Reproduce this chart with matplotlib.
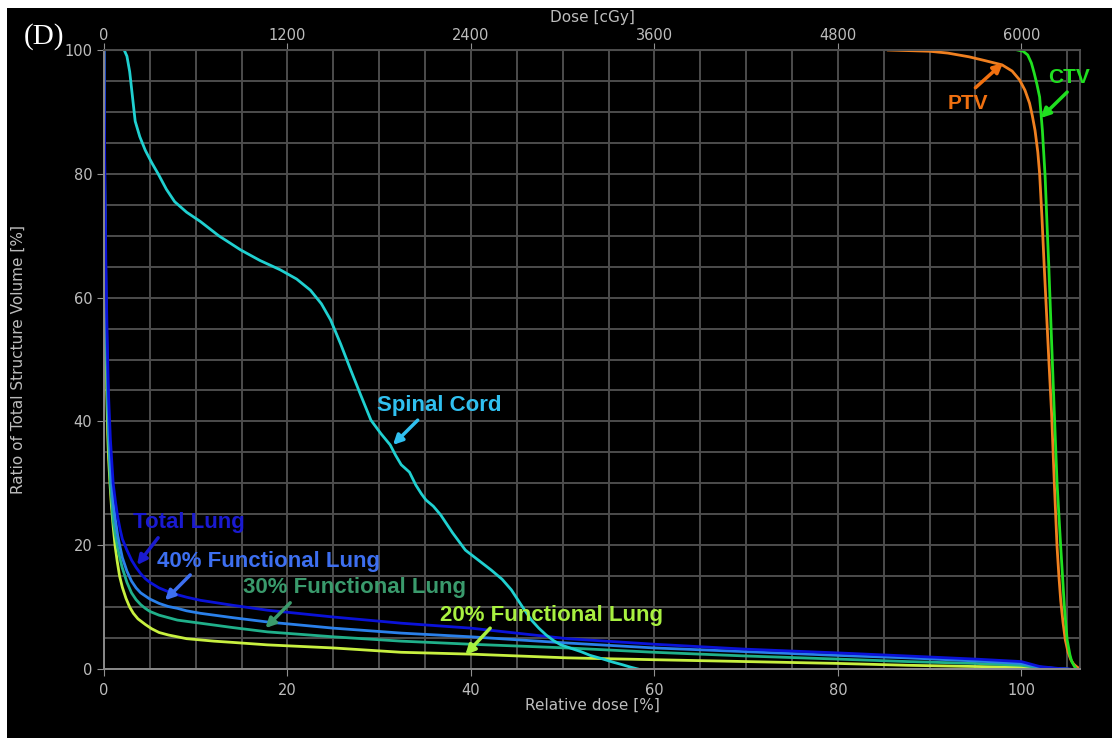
import numpy as np
import matplotlib
matplotlib.use("Agg")
import matplotlib.pyplot as plt
from matplotlib.patches import Rectangle

# dose-volume histogram, relative dose [%] vs volume [%]
cord_x = [2.2, 2.5, 2.8, 3.1, 3.4, 3.9, 4.5, 5.2, 5.9, 6.8, 7.7, 9.0, 10.5, 12.5, 14.9, 17.0,
          19.2, 21.0, 22.5, 23.7, 24.7, 25.8, 26.9, 28.0, 29.1, 30.2, 31.2, 31.8, 32.4, 33.3,
          34.0, 34.6, 35.1, 35.9, 36.7, 38.0, 39.4, 40.8, 42.2, 43.4, 44.4, 45.5, 46.6, 47.4,
          48.2, 49.0, 49.8, 51.0, 52.0, 53.0, 54.2, 55.5, 56.5, 57.4, 58.2]
cord_y = [100, 99, 96.5, 92.5, 88.5, 86, 83.8, 81.8, 80, 77.5, 75.5, 73.8, 72.3, 70, 67.7, 66,
          64.5, 63, 61.2, 59, 56.4, 52.5, 48.3, 44.2, 40.2, 38, 36.2, 34.5, 33, 31.8,
          29.7, 28.3, 27.3, 26.3, 24.9, 22, 19.2, 17.6, 16.0, 14.5, 12.8, 10.3, 7.9, 6.6,
          5.5, 4.6, 3.9, 3.3, 2.8, 2.2, 1.7, 1.1, 0.7, 0.3, 0]

total_x = [0, 0.05, 0.1, 0.2, 0.3, 0.4, 0.5, 0.7, 1.0, 1.25, 1.5, 1.75, 2.0, 2.5, 3.0, 3.5,
           4.0, 4.5, 5.0, 6.0, 7.0, 8.0, 9.0, 10.5, 14, 17.8, 25, 32.4, 40, 50.5, 60, 70, 80,
           87.6, 95, 100, 102, 104, 105.3]
total_y = [100, 88, 78, 66, 57, 50, 44, 37, 30, 27, 24.5, 22.6, 21, 19.2, 17.6, 16.4,
           15.4, 14.6, 14.0, 13.1, 12.5, 12.0, 11.6, 11.1, 10.3, 9.5, 8.4, 7.4, 6.6, 4.9, 4.0,
           3.2, 2.6, 2.1, 1.6, 1.2, 0.4, 0.1, 0]

f40_x = [0, 0.05, 0.1, 0.2, 0.3, 0.4, 0.5, 0.7, 1.0, 1.25, 1.5, 1.75, 2.0, 2.5, 3.0, 3.5,
         4.0, 4.5, 5.0, 6.0, 7.0, 8.0, 9.0, 10.5, 14, 17.8, 25, 32.4, 40, 50.5, 60, 70, 80,
         87.6, 95, 100, 102, 104, 105.0]
f40_y = [100, 86, 75, 62, 53, 46, 40, 33, 27, 24, 21.5, 19.7, 18.0, 15.8, 14.2, 13.1,
         12.3, 11.8, 11.3, 10.6, 10.1, 9.8, 9.4, 9.0, 8.3, 7.6, 6.6, 5.8, 5.2, 4.2, 3.4,
         2.8, 2.2, 1.8, 1.3, 0.9, 0.3, 0.05, 0]

f30_x = [0, 0.05, 0.1, 0.2, 0.3, 0.4, 0.5, 0.7, 1.0, 1.25, 1.5, 1.75, 2.0, 2.5, 3.0, 3.5,
         4.0, 4.5, 5.0, 6.0, 7.0, 8.0, 9.0, 10.5, 14, 17.8, 25, 32.4, 40, 50.5, 60, 70, 80,
         87.6, 95, 100, 102, 104, 104.8]
f30_y = [100, 84, 72, 58, 49, 42, 37, 30, 24, 21.5, 19.5, 17.8, 16.3, 14.0, 12.3, 11.2,
         10.4, 9.8, 9.3, 8.7, 8.3, 7.9, 7.7, 7.4, 6.7, 6.0, 5.2, 4.5, 4.0, 3.4, 2.7,
         2.1, 1.6, 1.2, 0.9, 0.6, 0.2, 0.05, 0]

f20_x = [0, 0.05, 0.1, 0.2, 0.3, 0.4, 0.5, 0.65, 0.8, 1.0, 1.2, 1.45, 1.7, 2.0, 2.4, 2.8,
         3.2, 3.7, 4.5, 5.2, 6.0, 7.0, 8.0, 9.0, 10.5, 12, 14, 17.8, 25, 32.4, 40, 50.5, 60,
         70, 80, 87.6, 95, 100, 102, 104.2]
f20_y = [100, 82, 70, 55, 45, 38, 34, 30, 26.5, 23, 20, 17.3, 15, 13.2, 11.4, 10,
         9.0, 8.1, 7.2, 6.5, 5.9, 5.5, 5.2, 4.9, 4.7, 4.5, 4.3, 3.9, 3.4, 2.7, 2.4, 1.8, 1.5,
         1.2, 0.9, 0.6, 0.4, 0.3, 0.1, 0]

ptv_x = [85.5, 90, 92, 94.3, 96, 97.9, 99, 99.8, 100.4, 100.9, 101.2, 101.5, 101.8, 102.0,
         102.25, 102.5, 102.75, 103.0, 103.3, 103.6, 103.9, 104.1, 104.3, 104.55, 104.8,
         105.1, 105.4, 105.7, 106.0, 106.4]
ptv_y = [100, 99.8, 99.5, 98.9, 98.3, 97.6, 96.6, 95.2, 93.5, 91.4, 89.4, 87, 83.5, 80,
         73, 65, 57.5, 50, 41.4, 30, 19.7, 15, 11, 7.5, 4.7,
         2.7, 1.5, 0.8, 0.4, 0]

ctv_x = [99.6, 100.2, 100.7, 101.1, 101.4, 101.7, 102.0, 102.3, 102.6, 102.8, 103.0, 103.3,
         103.6, 103.9, 104.3, 104.7, 105.0, 105.3, 105.5, 105.8, 106.0]
ctv_y = [100, 99.8, 99.2, 97.9, 96.3, 94.5, 92.4, 87, 79.5, 72, 65, 53,
         41.4, 30, 19.7, 10, 4.7, 2.3, 1.2, 0.4, 0]

prescription = 6000  # cGy at 100 %
dose_ticks = [0, 1200, 2400, 3600, 4800, 6000]

fig = plt.figure(figsize=(11.12, 7.38), dpi=100, facecolor="white")
fig.add_artist(Rectangle((7 / 1112, 0), 1, 730 / 738, transform=fig.transFigure,
                         facecolor="black", edgecolor="none", zorder=-10))

ax = fig.add_axes([104 / 1112, 69 / 738, 976 / 1112, 619 / 738])
ax.set_facecolor("black")
ax.set_xlim(0, 106.4)
ax.set_ylim(0, 100)

grid_c = "#4d4d4d"
tick_c = "#bdbdbd"
ax.set_xticks(np.arange(0, 101, 20))
ax.set_xticks(np.arange(0, 106, 5), minor=True)
ax.set_yticks(np.arange(0, 101, 20))
ax.set_yticks(np.arange(0, 101, 5), minor=True)
ax.grid(which="both", color=grid_c, lw=1.4)
ax.set_axisbelow(True)
ax.tick_params(which="major", colors="#909090", labelcolor=tick_c, labelsize=10.5, length=5)
ax.tick_params(axis="x", pad=5)
ax.tick_params(which="minor", length=0)
for s in ["left", "bottom"]:
    ax.spines[s].set_color("#8a8a8a")
    ax.spines[s].set_linewidth(1.4)
for s in ["right", "top"]:
    ax.spines[s].set_color(grid_c)
    ax.spines[s].set_linewidth(1.4)

ax.set_xlabel("Relative dose [%]", color=tick_c, fontsize=11)
ax.xaxis.set_label_coords(0.5, -0.047)
ax.set_ylabel("Ratio of Total Structure Volume [%]", color=tick_c, fontsize=11)
ax.yaxis.set_label_coords(-0.08, 0.5)

sec = ax.secondary_xaxis("top", functions=(lambda p: p * prescription / 100,
                                            lambda d: d * 100 / prescription))
sec.set_xticks(dose_ticks)
sec.tick_params(colors="#909090", labelcolor=tick_c, labelsize=10.5, length=5, pad=0)
sec.spines["top"].set_color(grid_c)
sec.set_xlabel("Dose [cGy]", color=tick_c, fontsize=11, labelpad=4)

lw = 2.0
ax.plot(f20_x, f20_y, color="#c8f040", lw=lw)
ax.plot(f30_x, f30_y, color="#20b08a", lw=lw)
ax.plot(f40_x, f40_y, color="#2a80ea", lw=lw)
ax.plot(total_x, total_y, color="#0a12d8", lw=lw)
ax.plot(cord_x, cord_y, color="#20d0d0", lw=lw)
ax.plot(ptv_x, ptv_y, color="#f08020", lw=lw)
ax.plot(ctv_x, ctv_y, color="#20e020", lw=lw)

labels = [
    ("Total Lung", (3.2, 23.6), (5.9, 21.2), (3.6, 16.8), "#1a1ad0"),
    ("40% Functional Lung", (5.8, 17.4), (9.4, 15.2), (6.65, 11.1), "#3d6ff0"),
    ("30% Functional Lung", (15.2, 13.1), (20.3, 10.7), (17.6, 6.6), "#3a9a6c"),
    ("20% Functional Lung", (36.6, 8.6), (42.1, 6.6), (39.4, 2.3), "#a8f040"),
    ("Spinal Cord", (29.8, 42.5), (34.2, 40.2), (31.5, 36.2), "#30c0f0"),
    ("PTV", (92.0, 91.4), (95.0, 93.9), (98.0, 97.9), "#f07010"),
    ("CTV", (102.9, 95.6), (105.0, 93.2), (102.1, 89.0), "#20e020"),
]
for txt, pos, tail, tip, c in labels:
    ax.text(pos[0], pos[1], txt, color=c, fontsize=16 if "Lung" in txt or "Cord" in txt else 15,
            fontweight="bold", family="Liberation Sans", ha="left", va="center")
    ax.annotate("", xy=tip, xytext=tail,
                arrowprops=dict(arrowstyle="-|>", color=c, lw=2.5, mutation_scale=14,
                                shrinkA=0, shrinkB=0))

fig.text(44 / 1112, 1 - 37 / 738, "(D)", color="white", fontsize=21,
         family="Liberation Serif", ha="center", va="center")

fig.savefig("out.png", dpi=100, facecolor="white")
